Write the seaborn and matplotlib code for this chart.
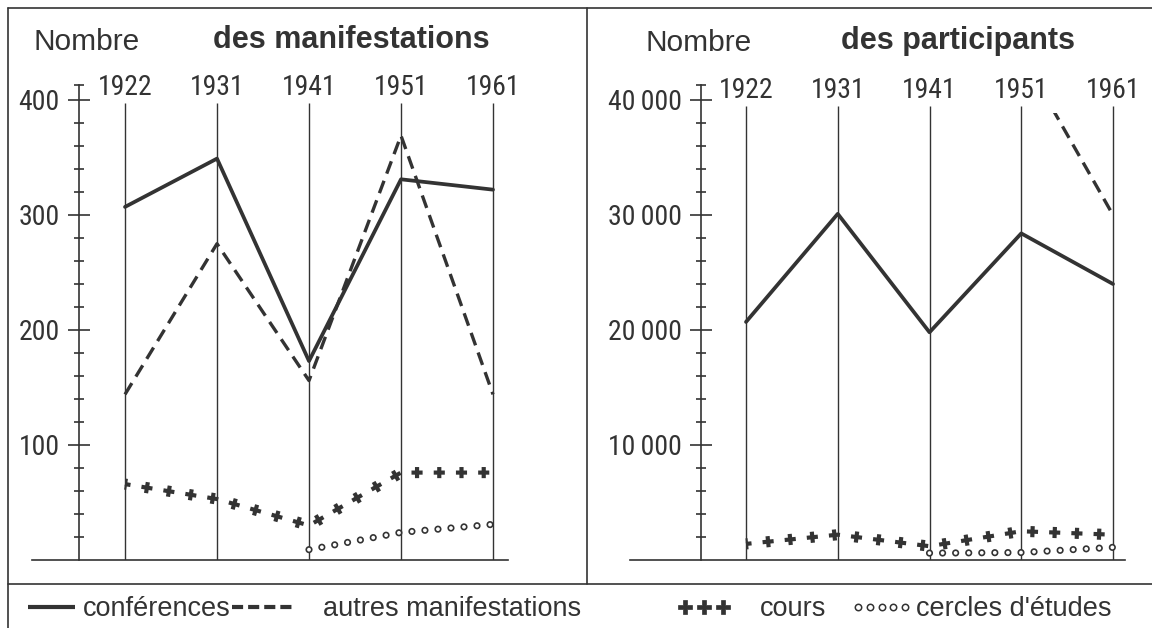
import numpy as np
import pandas as pd
import matplotlib
matplotlib.use("Agg")
import matplotlib.pyplot as plt
import matplotlib.transforms as mtransforms
import seaborn as sns
from matplotlib.lines import Line2D
from matplotlib.patches import Rectangle
from matplotlib.ticker import FixedLocator, FuncFormatter

# ---------------- data ----------------
years = ["1922", "1931", "1941", "1951", "1961"]

# Nombre des manifestations
manif_conferences = [307, 349, 173, 331, 322]
manif_autres = [144, 275, 156, 369, 144]
manif_cours = [66, 53, 30, 76, 76]
manif_cercles = [np.nan, np.nan, 9, 24, 31]

# Nombre des participants
part_conferences = [20700, 30100, 19800, 28400, 24000]
part_autres = [np.nan, np.nan, np.nan, 44000, 30000]
part_cours = [1400, 2200, 1200, 2500, 2200]
part_cercles = [np.nan, np.nan, 600, 650, 1100]

manif_ticks = [100, 200, 300, 400]
part_ticks = [10000, 20000, 30000, 40000]

titles_left = ("Nombre", "des manifestations")
titles_right = ("Nombre", "des participants")
legend_labels = ["conférences", "autres manifestations", "cours", "cercles d'études"]

# ---------------- style ----------------
sns.set_style("white")
plt.rcParams["lines.scale_dashes"] = False
plt.rcParams["font.family"] = ["Liberation Sans", "DejaVu Sans"]
NARROW = ["Roboto Condensed", "Noto Sans Condensed", "Liberation Sans Narrow",
          "DejaVu Sans Condensed", "Open Sans Condensed", "Liberation Sans", "DejaVu Sans"]
INK = "#333333"

W, H = 1152, 628
fig = plt.figure(figsize=(W / 100, H / 100), dpi=100)
fig.patch.set_facecolor("white")


def fx(px):
    return px / W


def fy(py):
    return 1 - py / H


def make_axes(x0, x1, y_top, y_bot):
    return fig.add_axes([fx(x0), fy(y_bot), fx(x1) - fx(x0), fy(y_top) - fy(y_bot)])


positions = np.arange(len(years))

axL = make_axes(32, 508, 85, 560)
axR = make_axes(630, 1125, 85, 560)


def series_df(vals):
    return pd.DataFrame({"pos": positions, "val": vals}).dropna()


def add_line(ax, d, color, lw, ls, cap, z):
    sns.lineplot(data=d, x="pos", y="val", ax=ax, estimator=None,
                 sort=False, legend=False, color=color, lw=lw)
    ln = ax.lines[-1]
    ln.set_linestyle(ls)
    ln.set_dash_capstyle(cap)
    ln.set_solid_capstyle("round")
    ln.set_solid_joinstyle("round")
    ln.set_zorder(z)
    return ln


def plot_solid(ax, vals):
    return add_line(ax, series_df(vals), INK, 2.7, "-", "butt", 3)


def plot_dashed(ax, vals):
    return add_line(ax, series_df(vals), INK, 2.4, (0, (9.5, 5.5)), "butt", 3)


def plot_cross(ax, vals):
    d = series_df(vals)
    # horizontal arm of each cross, then the perpendicular arm
    a = add_line(ax, d, INK, 3.0, (4.0, (8.0, 8.0)), "butt", 4)
    b = add_line(ax, d, INK, 8.0, (1.5, (3.0, 13.0)), "butt", 4)
    return a, b


def plot_circles(ax, vals):
    d = series_df(vals)
    c = add_line(ax, d, INK, 5.2, (0, (0.01, 9.4)), "round", 5)
    w = add_line(ax, d, "white", 2.8, (0, (0.01, 9.4)), "round", 6)
    return c, w


def style_axes(ax, xlim, ytop, yaxis_x, major, minor_step, fmt, year_top, year_base):
    ax.set_xlim(*xlim)
    ax.set_ylim(0, ytop)
    ax.set_facecolor("none")
    ax.set_xlabel("")
    ax.set_ylabel("")
    ax.grid(False)
    for s in ["top", "right"]:
        ax.spines[s].set_visible(False)
    ax.spines["left"].set_position(("data", yaxis_x))
    for s in ["left", "bottom"]:
        ax.spines[s].set_color(INK)
        ax.spines[s].set_linewidth(1.2)
    ax.set_xticks([])
    ax.yaxis.set_major_locator(FixedLocator(major))
    minor = list(np.arange(minor_step, ytop, minor_step)) + [ytop]
    ax.yaxis.set_minor_locator(FixedLocator(minor))
    ax.yaxis.set_major_formatter(FuncFormatter(fmt))
    ax.tick_params(axis="y", which="major", direction="inout", length=16, width=1.2,
                   color=INK, pad=6, labelsize=20, labelcolor=INK,
                   labelfontfamily=NARROW, left=True)
    ax.tick_params(axis="y", which="minor", direction="inout", length=7, width=1.2,
                   color=INK, left=True)
    ax.vlines(positions, 0, year_top, color=INK, lw=1.0, zorder=1)
    trans = mtransforms.blended_transform_factory(ax.transData, ax.transAxes)
    for p, yr in zip(positions, years):
        ax.text(p, year_base, yr, transform=trans, ha="center", va="baseline",
                fontsize=20, family=NARROW, color=INK)


# ---------------- left panel ----------------
plot_solid(axL, manif_conferences)
plot_dashed(axL, manif_autres)
plot_cross(axL, manif_cours)
plot_circles(axL, manif_cercles)
style_axes(axL, ((32 - 125) / 92, (508 - 125) / 92), 413, -0.5, manif_ticks, 20,
           lambda v, p: f"{int(v)}", 397, (560 - 95) / 475)

# ---------------- right panel ----------------
plot_solid(axR, part_conferences)
dr = plot_dashed(axR, part_autres)
clip = Rectangle((-2, -1000), 10, 39900, transform=axR.transData)
dr.set_clip_path(clip)
plot_cross(axR, part_cours)
plot_circles(axR, part_cercles)
style_axes(axR, ((630 - 746) / 91.75, (1125 - 746) / 91.75), 41304, -0.49, part_ticks, 2000,
           lambda v, p: f"{int(v) // 1000}\u2009000", 39500, (560 - 98) / 475)

# ---------------- titles ----------------
fig.text(fx(33), fy(50), titles_left[0], fontsize=21.5, va="baseline", color=INK)
fig.text(fx(213), fy(48), titles_left[1], fontsize=22, weight="bold", va="baseline", color=INK)
fig.text(fx(646), fy(51), titles_right[0], fontsize=21.5, va="baseline", color=INK)
fig.text(fx(841), fy(49), titles_right[1], fontsize=22, weight="bold", va="baseline", color=INK)

# ---------------- frame ----------------
frame_kw = dict(transform=fig.transFigure, color=INK, lw=1.2)
fig.add_artist(Line2D([fx(8), fx(1152)], [fy(8), fy(8)], **frame_kw))
fig.add_artist(Line2D([fx(8), fx(8)], [fy(8), fy(628)], **frame_kw))
fig.add_artist(Line2D([fx(587), fx(587)], [fy(8), fy(584)], **frame_kw))
fig.add_artist(Line2D([fx(8), fx(1152)], [fy(584), fy(584)], **frame_kw))

# ---------------- legend ----------------
h_solid = Line2D([], [], color=INK, lw=3.0, solid_capstyle="butt")
h_dash = Line2D([], [], color=INK, lw=3.0, linestyle=(0, (8, 3.6)), dash_capstyle="butt")
h_cross = Line2D([], [], linestyle="none", marker="P", markersize=9.5,
                 color=INK, markeredgecolor=INK, markeredgewidth=0.5)
h_circ = Line2D([], [], linestyle="none", marker="o", markersize=4.6,
                markerfacecolor="white", markeredgecolor=INK, markeredgewidth=1.1)

LFS = 19.5
entries = [
    (h_solid, legend_labels[0], 28, 1.73, 0.3, 1),
    (h_dash, legend_labels[1], 232, 2.2, 1.15, 1),
    (h_cross, legend_labels[2], 677, 2.0, 1.07, 3),
    (h_circ, legend_labels[3], 850, 2.34, 0.1, 5),
]
for handle, label, x0, hl, tp, npts in entries:
    fig.legend([handle], [label], loc="center left",
               bbox_to_anchor=(fx(x0), fy(609)), frameon=False,
               handlelength=hl, handletextpad=tp, borderpad=0, borderaxespad=0,
               fontsize=LFS, labelcolor=INK, numpoints=npts)

fig.savefig("out.png", dpi=100, facecolor="white")
